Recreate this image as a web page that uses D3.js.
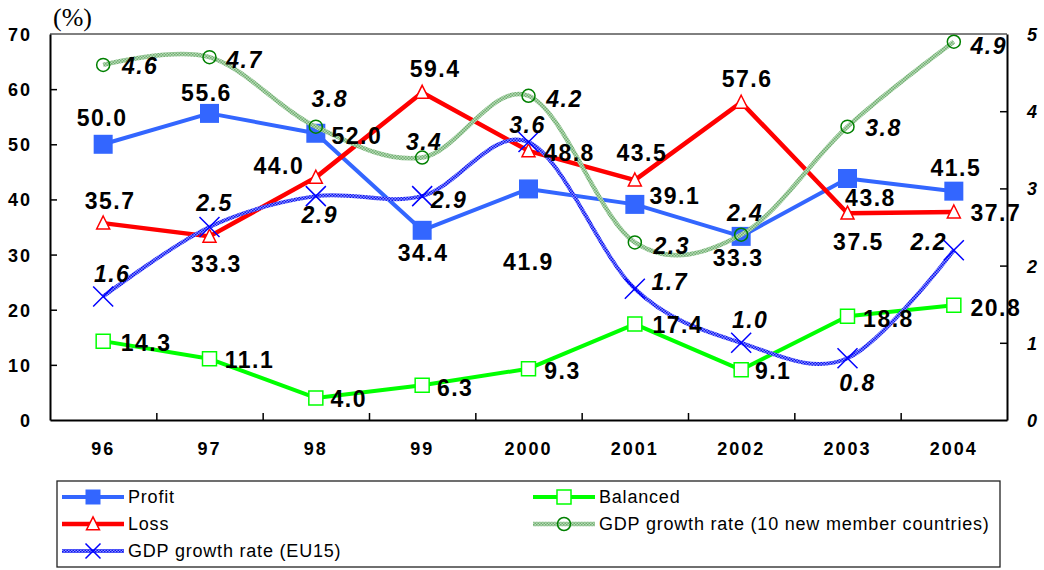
<!DOCTYPE html>
<html>
<head>
<meta charset="utf-8">
<script src="https://cdn.jsdelivr.net/npm/d3@7"></script>
<style>
  body { margin: 0; background: #fff; }
  svg { display: block; }
  .lbl { font-family: "Liberation Sans", Arial, sans-serif; font-weight: bold; font-size: 23px; letter-spacing: 1.5px; fill: #000; }
  .lbl2 { font-style: italic; }
  .ax text { font-family: "Liberation Sans", Arial, sans-serif; font-weight: bold; font-size: 18px; letter-spacing: 2px; fill: #000; }
  .legend text { font-family: "Liberation Sans", Arial, sans-serif; font-size: 18px; letter-spacing: 0.8px; fill: #000; }
</style>
</head>
<body>
<svg id="chart" width="1044" height="570"></svg>
<script>
var years = ['96', '97', '98', '99', '2000', '2001', '2002', '2003', '2004'];
var profit = [50.0, 55.6, 52.0, 34.4, 41.9, 39.1, 33.3, 43.8, 41.5];
var balanced = [14.3, 11.1, 4.0, 6.3, 9.3, 17.4, 9.1, 18.8, 20.8];
var loss = [35.7, 33.3, 44.0, 59.4, 48.8, 43.5, 57.6, 37.5, 37.7];
var gdpNew = [4.6, 4.7, 3.8, 3.4, 4.2, 2.3, 2.4, 3.8, 4.9];
var gdpEU = [1.6, 2.5, 2.9, 2.9, 3.6, 1.7, 1.0, 0.8, 2.2];
var leftTicks = [0, 10, 20, 30, 40, 50, 60, 70];
var rightTicks = [0, 1, 2, 3, 4, 5];

// where each data label sits relative to its marker (dx, dy)
var profitLbl = [[-1, -27], [-3, -21], [41, 2], [1, 22], [0, 73], [40, -9], [-3, 21], [23, 19], [2, -23]];
var lossLbl = [[7, -22], [7, 27], [-37, -12], [13, -24], [41, 2], [7, -27], [6, -24], [11, 29], [42, 1]];
var balLbl = [[43, 2], [40, 1], [33, 1], [33, 2], [34, 2], [43, 1], [32, 1], [41, 2], [42, 2]];
var newLbl = [[37, 1], [35, 3], [14, -28], [2, -16], [36, 3], [37, 3], [4, -22], [36, 1], [35, 4]];
var euLbl = [[9, -23], [5, -24], [4, 19], [27, 4], [-1, -17], [35, -7], [9, -23], [10, 24], [-25, -8]];

var svg = d3.select('#chart');
var plotL = 50, plotR = 1007, plotT = 34, plotB = 420;

var x = d3.scaleBand().domain(years).range([plotL, plotR]);
var xl = d3.scaleLinear().domain([0, years.length]).range([plotL, plotR]);
var y = d3.scaleLinear().domain([0, 70]).range([plotB, plotT]);
var y2 = d3.scaleLinear().domain([0, 5]).range([plotB, plotT]);
function cx(d) { return x(d) + x.bandwidth() / 2; }

// textured strokes for the GDP lines
var defs = svg.append('defs');
function texture(id, bg, fg) {
    var p = defs.append('pattern').attr('id', id).attr('patternUnits', 'userSpaceOnUse')
        .attr('width', 3).attr('height', 3);
    p.append('rect').attr('width', 3).attr('height', 3).attr('fill', bg);
    p.append('rect').attr('width', 1.5).attr('height', 1.5).attr('fill', fg);
    p.append('rect').attr('x', 1.5).attr('y', 1.5).attr('width', 1.5).attr('height', 1.5).attr('fill', fg);
}
texture('texEU', '#8593ff', '#1010f0');
texture('texNew', '#b8dcb8', '#72ae72');

svg.append('rect').attr('width', 1044).attr('height', 570).attr('fill', '#fff');

// "(%)"
svg.append('text').attr('x', 53).attr('y', 26)
    .style('font-family', '"Liberation Serif", "Times New Roman", serif')
    .style('font-size', '26px').text('(%)');

// axes
svg.append('line').attr('x1', plotL).attr('x2', plotR).attr('y1', plotT).attr('y2', plotT)
    .attr('stroke', '#000').attr('stroke-width', 1);

var gl = svg.append('g').attr('class', 'ax').attr('transform', 'translate(' + plotL + ',0)')
    .call(d3.axisLeft(y).tickValues(leftTicks).tickSizeInner(-7).tickSizeOuter(0).tickPadding(18));
var gr = svg.append('g').attr('class', 'ax').attr('transform', 'translate(' + plotR + ',0)')
    .call(d3.axisRight(y2).tickValues(rightTicks).tickFormat(d3.format('d')).tickSizeInner(-7).tickSizeOuter(0).tickPadding(20));
gr.selectAll('text').style('font-style', 'italic');
var gb = svg.append('g').attr('class', 'ax').attr('transform', 'translate(0,' + plotB + ')')
    .call(d3.axisBottom(xl).tickValues(d3.range(1, years.length)).tickSizeInner(-7).tickSizeOuter(0).tickFormat(''));
var gbl = svg.append('g').attr('class', 'ax').attr('transform', 'translate(0,' + plotB + ')')
    .call(d3.axisBottom(x).tickSize(0).tickPadding(22));
gbl.select('.domain').remove();
[gl, gr, gb].forEach(function (g) {
    g.select('.domain').attr('stroke-width', 2);
    g.selectAll('.tick line').attr('stroke-width', 1.5);
});
gl.selectAll('.tick').filter(function (d) { return d === 0 || d === 70; }).select('line').remove();
gr.selectAll('.tick').filter(function (d) { return d === 0 || d === 5; }).select('line').remove();
gl.selectAll('text').attr('dy', '0.36em');
gr.selectAll('text').attr('dy', '0.36em');

// marker shapes
var markers = {
    square: function (s) { return d3.symbol(d3.symbolSquare, s * s)(); },
    triangle: function (s) { return 'M0,' + (-s * 0.55) + 'L' + (s / 2) + ',' + (s * 0.45) + 'H' + (-s / 2) + 'Z'; },
    circle: function (s) { return d3.symbol(d3.symbolCircle, Math.PI * s * s / 4)(); },
    cross: function (s) { var h = s / 2; return 'M' + -h + ',' + -h + 'L' + h + ',' + h + 'M' + -h + ',' + h + 'L' + h + ',' + -h; }
};

var series = [
    { name: 'Profit', values: profit, scale: y, color: '#3366ff', width: 4, marker: 'square', size: 19, fill: '#3366ff', mstroke: 'none', lbl: profitLbl },
    { name: 'Balanced', values: balanced, scale: y, color: '#00ff00', width: 4, marker: 'square', size: 14, fill: '#fff', mstroke: '#00ff00', lbl: balLbl },
    { name: 'Loss', values: loss, scale: y, color: '#ff0000', width: 4.5, marker: 'triangle', size: 13, fill: '#fff', mstroke: '#ff0000', lbl: lossLbl },
    { name: 'GDP growth rate (10 new member countries)', values: gdpNew, scale: y2, color: 'url(#texNew)', width: 4.5, marker: 'circle', size: 13, fill: 'none', mstroke: '#008000', lbl: newLbl, smooth: true, italic: true },
    { name: 'GDP growth rate (EU15)', values: gdpEU, scale: y2, color: 'url(#texEU)', width: 4, marker: 'cross', size: 20, fill: 'none', mstroke: '#0000ff', lbl: euLbl, smooth: true, italic: true }
];

series.forEach(function (s) {
    var line = d3.line()
        .x(function (d, i) { return cx(years[i]); })
        .y(function (d) { return s.scale(d); })
        .curve(s.smooth ? d3.curveCatmullRom.alpha(0) : d3.curveLinear);
    var g = svg.append('g');
    g.append('path').datum(s.values).attr('d', line)
        .attr('fill', 'none').attr('stroke', s.color).attr('stroke-width', s.width)
        .attr('stroke-linejoin', 'round');
    g.selectAll('.mk').data(s.values).enter().append('path')
        .attr('class', 'mk')
        .attr('d', markers[s.marker](s.size))
        .attr('transform', function (d, i) { return 'translate(' + cx(years[i]) + ',' + s.scale(d) + ')'; })
        .attr('fill', s.fill).attr('stroke', s.mstroke).attr('stroke-width', s.marker === 'square' && s.fill !== '#fff' ? 0 : 1.5);
});

// data labels on top
series.forEach(function (s) {
    svg.append('g').selectAll('text').data(s.values).enter().append('text')
        .attr('class', s.italic ? 'lbl lbl2' : 'lbl')
        .attr('x', function (d, i) { return cx(years[i]) + s.lbl[i][0]; })
        .attr('y', function (d, i) { return s.scale(d) + s.lbl[i][1]; })
        .attr('text-anchor', 'middle')
        .attr('dy', '0.36em')
        .text(function (d) { return d3.format('.1f')(d); });
});

// legend
var lg = svg.append('g').attr('class', 'legend');
lg.append('rect').attr('x', 57).attr('y', 481).attr('width', 943).attr('height', 86)
    .attr('fill', '#fff').attr('stroke', '#222').attr('stroke-width', 1.3);
var slots = [[62, 497], [533, 497], [62, 524], [533, 524], [62, 551]];
series.forEach(function (s, k) {
    var p = slots[k];
    var item = lg.append('g').attr('transform', 'translate(' + p[0] + ',' + p[1] + ')');
    item.append('line').attr('x1', 0).attr('x2', 62).attr('y1', 0).attr('y2', 0)
        .attr('stroke', s.color).attr('stroke-width', s.width);
    var ms = s.marker === 'square' ? Math.min(s.size, 15) : s.marker === 'cross' ? 15 : s.size;
    item.append('path').attr('d', markers[s.marker](ms))
        .attr('transform', 'translate(31,0)')
        .attr('fill', s.fill).attr('stroke', s.mstroke)
        .attr('stroke-width', s.marker === 'square' && s.fill !== '#fff' ? 0 : 1.5);
    item.append('text').attr('x', 66).attr('dy', '0.36em').text(s.name);
});
</script>
</body>
</html>
